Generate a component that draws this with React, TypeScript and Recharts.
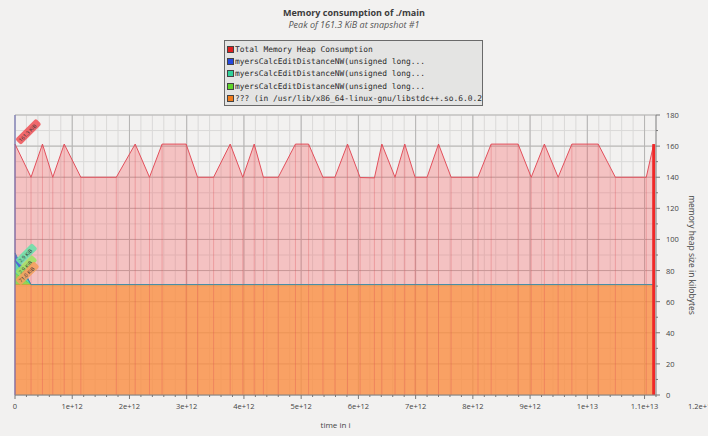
import React from "react";
import {
  ComposedChart,
  Area,
  XAxis,
  YAxis,
  CartesianGrid,
  ReferenceLine,
  ReferenceDot,
} from "recharts";

// snapshot times (instructions) and heap sizes in KiB
const snapshotTimes = [
  0, 0.28e12, 0.48e12, 0.66e12, 0.86e12, 1.15e12, 1.77e12, 2.1e12, 2.35e12, 2.57e12,
  2.99e12, 3.19e12, 3.47e12, 3.76e12, 3.98e12, 4.18e12, 4.34e12, 4.6e12, 4.9e12, 5.13e12,
  5.38e12, 5.59e12, 5.81e12, 6.03e12, 6.28e12, 6.41e12, 6.64e12, 6.81e12, 6.99e12, 7.2e12,
  7.4e12, 7.62e12, 8.09e12, 8.32e12, 8.79e12, 9.02e12, 9.25e12, 9.49e12, 9.73e12, 10.19e12,
  10.49e12, 11.03e12, 11.16e12,
];
const totalKiB = [
  161.3, 140.0, 161.3, 140.0, 161.3, 140.0, 140.0, 161.3, 140.0, 161.3,
  161.3, 140.0, 140.0, 161.3, 140.0, 161.3, 140.0, 140.0, 161.3, 161.3,
  140.0, 140.0, 161.3, 139.8, 139.6, 161.3, 140.0, 161.3, 140.0, 140.0,
  161.3, 140.0, 140.0, 161.3, 161.3, 140.0, 161.3, 140.0, 161.3, 161.3,
  140.0, 140.0, 161.3,
];
const libstdcxxKiB = [
  71.0, 71.0, 71.0, 71.0, 71.0, 71.0, 71.0, 71.0, 71.0, 71.0,
  71.0, 71.0, 71.0, 71.0, 71.0, 71.0, 71.0, 71.0, 71.0, 71.0,
  71.0, 71.0, 71.0, 71.0, 71.0, 71.0, 71.0, 71.0, 71.0, 71.0,
  71.0, 71.0, 71.0, 71.0, 71.0, 71.0, 71.0, 71.0, 71.0, 71.0,
  71.0, 71.0, 71.0,
];
const myersAKiB = [7.5, 0, 0, 0, 0, 0, 0, 0, 0, 0, 0, 0, 0, 0, 0, 0, 0, 0, 0, 0, 0, 0, 0, 0, 0, 0, 0, 0, 0, 0, 0, 0, 0, 0, 0, 0, 0, 0, 0, 0, 0, 0, 0];
const myersBKiB = [7.5, 0, 0, 0, 0, 0, 0, 0, 0, 0, 0, 0, 0, 0, 0, 0, 0, 0, 0, 0, 0, 0, 0, 0, 0, 0, 0, 0, 0, 0, 0, 0, 0, 0, 0, 0, 0, 0, 0, 0, 0, 0, 0];
const myersCKiB = [5.3, 0, 0, 0, 0, 0, 0, 0, 0, 0, 0, 0, 0, 0, 0, 0, 0, 0, 0, 0, 0, 0, 0, 0, 0, 0, 0, 0, 0, 0, 0, 0, 0, 0, 0, 0, 0, 0, 0, 0, 0, 0, 0];

const legendNames = [
  "Total Memory Heap Consumption",
  "myersCalcEditDistanceNW(unsigned long...",
  "myersCalcEditDistanceNW(unsigned long...",
  "myersCalcEditDistanceNW(unsigned long...",
  "??? (in /usr/lib/x86_64-linux-gnu/libstdc++.so.6.0.24)",
];
const legendColors = ["#e01e1e", "#2448e0", "#2fd29a", "#5ed42a", "#f07c1c"];

const xMajorTicks = [0, 1e12, 2e12, 3e12, 4e12, 5e12, 6e12, 7e12, 8e12, 9e12, 1e13, 1.1e13];
const yMajorTicks = [0, 20, 40, 60, 80, 100, 120, 140, 160, 180];
const xMax = 11.2e12;
const yMax = 180;

const xMinorTicks = Array.from({ length: 57 }, (_, i) => i * 2e11);
const yMinorTicks = Array.from({ length: 19 }, (_, i) => i * 10);

const data = snapshotTimes.map((time, i) => ({
  time,
  total: totalKiB[i],
  libstdcxx: libstdcxxKiB[i],
  myersA: myersAKiB[i],
  myersB: myersBKiB[i],
  myersC: myersCKiB[i],
}));

const W = 708;
const H = 436;
const MARGIN_LEFT = 15;
const Y_AXIS_W = 52;
const PLOT_W = W - MARGIN_LEFT - Y_AXIS_W;
const FONT = '"Open Sans", "DejaVu Sans", sans-serif';

const fmtX = (v: number) => (v === 0 ? "0" : v.toExponential());

function XTick(props: any) {
  const { x, y, payload } = props;
  const v = payload.value as number;
  const major = v % 1e12 === 0;
  const last = v === xMajorTicks[xMajorTicks.length - 1];
  const step = (PLOT_W * 1e12) / xMax;
  return (
    <g>
      <line x1={x} x2={x} y1={y} y2={y + (major ? 4 : 2)} stroke="#777" />
      {major && (
        <text x={x} y={y + 11} textAnchor="middle" dominantBaseline="central" fontSize={7.5} fill="#444" fontFamily={FONT}>
          {fmtX(v)}
        </text>
      )}
      {last && (
        <text x={x + step} y={y + 11} textAnchor="middle" dominantBaseline="central" fontSize={7.5} fill="#444" fontFamily={FONT}>
          {fmtX(v + 1e12)}
        </text>
      )}
    </g>
  );
}

function YTick(props: any) {
  const { x, y, payload } = props;
  const v = payload.value as number;
  const major = yMajorTicks.includes(v);
  return (
    <g>
      <line x1={x} x2={x + (major ? 4 : 2)} y1={y} y2={y} stroke="#777" />
      {major && (
        <text x={x + 10} y={y} dominantBaseline="central" fontSize={7.5} fill="#444" fontFamily={FONT}>
          {v}
        </text>
      )}
    </g>
  );
}

function YLabel(props: any) {
  const vb = props.viewBox;
  const cx = vb.x + vb.width - 16;
  const cy = vb.y + vb.height / 2;
  return (
    <text
      x={cx}
      y={cy}
      transform={`rotate(90, ${cx}, ${cy})`}
      textAnchor="middle"
      dominantBaseline="central"
      fontSize={8.5}
      fill="#444"
      fontFamily={FONT}
    >
      memory heap size in kilobytes
    </text>
  );
}

function Tag({ cx, cy, text, color }: { cx: number; cy: number; text: string; color: string }) {
  const w = text.length * 2.8 + 4;
  return (
    <g transform={`translate(${cx + 3},${cy - 2}) rotate(-45)`}>
      <rect x={0} y={-4} width={w} height={8} rx={2} fill={color} />
      <text x={2} y={0.3} dominantBaseline="central" fontSize={5.2} fill="#333" fontFamily={FONT}>
        {text}
      </text>
    </g>
  );
}

const tags = [
  { y: totalKiB[0], text: "161.3 KiB", color: "rgba(240,80,85,0.85)" },
  { y: libstdcxxKiB[0] + myersCKiB[0] + myersBKiB[0], text: "2.9 KiB", color: "rgba(110,224,170,0.9)" },
  { y: libstdcxxKiB[0] + myersCKiB[0], text: "2.9 KiB", color: "rgba(160,226,100,0.9)" },
  { y: libstdcxxKiB[0], text: "71.0 KiB", color: "rgba(245,160,95,0.9)" },
];

export default function App() {
  const last = data[data.length - 1];
  return (
    <div style={{ position: "fixed", left: 0, top: 0, width: W, height: H, background: "#f2f1f0", fontFamily: FONT }}>
      <div style={{ position: "absolute", left: 0, top: 8, width: W, textAlign: "center", fontSize: 9, fontWeight: 700, color: "#3c3c3c", lineHeight: "10px" }}>
        Memory consumption of ./main
      </div>
      <div style={{ position: "absolute", left: 0, top: 19.5, width: W, textAlign: "center", fontSize: 9, fontStyle: "italic", color: "#555", lineHeight: "10px" }}>
        Peak of 161.3 KiB at snapshot #1
      </div>

      <ComposedChart
        width={W}
        height={H}
        data={data}
        margin={{ top: 115, right: 0, bottom: 0, left: MARGIN_LEFT }}
        style={{ position: "absolute", left: 0, top: 0 }}
      >
        <CartesianGrid
          stroke="#dad9d8"
          horizontalValues={yMinorTicks}
          verticalValues={xMinorTicks}
        />
        <CartesianGrid
          stroke="#b5b4b3"
          horizontalValues={yMajorTicks}
          verticalValues={xMajorTicks}
        />
        <XAxis
          type="number"
          dataKey="time"
          domain={[0, xMax]}
          ticks={xMinorTicks}
          interval={0}
          height={41}
          tickSize={0}
          tickMargin={0}
          tickLine={false}
          tick={<XTick />}
          axisLine={{ stroke: "#888" }}
          label={{ value: "time in i", position: "insideBottom", offset: 8, fontSize: 8, fill: "#444", fontFamily: FONT }}
        />
        <YAxis
          orientation="right"
          type="number"
          domain={[0, yMax]}
          ticks={yMinorTicks}
          interval={0}
          width={Y_AXIS_W}
          tickSize={0}
          tickMargin={0}
          tickLine={false}
          tick={<YTick />}
          axisLine={{ stroke: "#888" }}
          label={{ content: (p: any) => <YLabel {...p} /> }}
        />
        <Area
          type="linear"
          dataKey="total"
          stroke="#e2505c"
          strokeWidth={1}
          fill="rgb(250,85,90)"
          fillOpacity={0.3}
          isAnimationActive={false}
        />
        {data.map((d) => (
          <ReferenceLine
            key={`snap-${d.time}`}
            segment={[{ x: d.time, y: 0 }, { x: d.time, y: d.total }]}
            stroke="rgba(220,70,80,0.3)"
          />
        ))}
        <ReferenceLine
          segment={[{ x: last.time, y: 0 }, { x: last.time, y: last.total }]}
          stroke="#f02828"
          strokeWidth={3}
        />
        <ReferenceLine x={0} stroke="#6c6cb8" />
        <Area
          type="linear"
          dataKey="libstdcxx"
          stackId="s"
          stroke="#f08a3c"
          fill="#fb9440"
          fillOpacity={0.72}
          isAnimationActive={false}
        />
        <Area
          type="linear"
          dataKey="myersA"
          stackId="s"
          stroke="#6ad83a"
          fill="#7ada3a"
          fillOpacity={0.8}
          isAnimationActive={false}
        />
        <Area
          type="linear"
          dataKey="myersB"
          stackId="s"
          stroke="#3cc8a0"
          fill="#40d8b0"
          fillOpacity={0.8}
          isAnimationActive={false}
        />
        <Area
          type="linear"
          dataKey="myersC"
          stackId="s"
          stroke="#4a8aa8"
          fill="#3050e0"
          fillOpacity={0.8}
          isAnimationActive={false}
        />
        {tags.map((t, i) => (
          <ReferenceDot
            key={`tag-${i}`}
            x={0}
            y={t.y}
            r={0}
            shape={(p: any) => <Tag cx={p.cx} cy={p.cy} text={t.text} color={t.color} />}
          />
        ))}
      </ComposedChart>

      <div
        style={{
          position: "absolute",
          left: 224,
          top: 40,
          width: 259,
          height: 66,
          boxSizing: "border-box",
          border: "1px solid #6a6a6a",
          background: "#e4e4e3",
          overflow: "hidden",
          padding: "2px 0 0 2px",
        }}
      >
        {legendNames.map((name, i) => (
          <div
            key={`leg-${i}`}
            style={{
              display: "flex",
              alignItems: "center",
              height: 12.4,
              whiteSpace: "nowrap",
              fontFamily: '"DejaVu Sans Mono", monospace',
              fontSize: 7.9,
              color: "#2a2a2a",
            }}
          >
            <span
              style={{
                display: "inline-block",
                width: 5,
                height: 5,
                marginRight: 1,
                background: legendColors[i],
                border: "0.5px solid #444",
                flexShrink: 0,
              }}
            />
            {name}
          </div>
        ))}
      </div>
    </div>
  );
}
